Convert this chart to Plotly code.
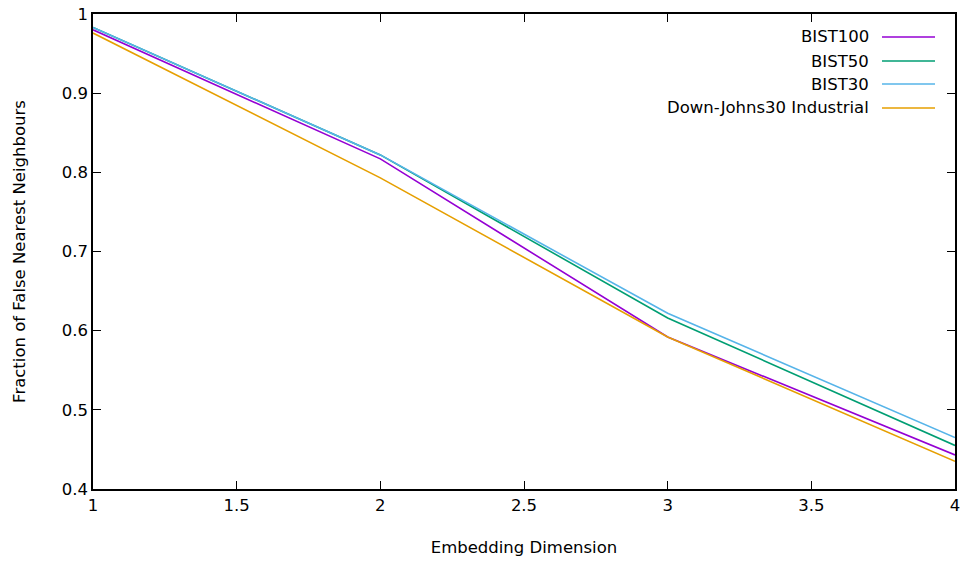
import plotly.graph_objects as go

dims = [1, 2, 3, 4]
bist100 = [0.980, 0.817, 0.592, 0.443]
bist50 = [0.983, 0.822, 0.616, 0.455]
bist30 = [0.983, 0.822, 0.622, 0.465]
dj30 = [0.976, 0.793, 0.592, 0.435]

names = ["BIST100", "BIST50", "BIST30", "Down-Johns30 Industrial"]
series = [bist100, bist50, bist30, dj30]
colors = ["#9400D3", "#009E73", "#56B4E9", "#E69F00"]

FONT = "DejaVu Sans"
FS = 16.5
W, H = 964, 563
PL, PR, PT, PB = 93, 955, 14, 489  # plot area in page pixels


def px_x(p):
    return (p - PL) / (PR - PL)


def px_y(p):
    return (PB - p) / (PB - PT)


fig = go.Figure()
for n, s, c in zip(names, series, colors):
    fig.add_trace(go.Scatter(x=dims, y=s, mode="lines", name=n,
                             line=dict(color=c, width=1.6), showlegend=False))

# Manual gnuplot-style legend (text then sample line on the right)
leg_y = [37, 61, 84, 108]
anns = []
shapes = []
for n, c, yp in zip(names, colors, leg_y):
    yy = px_y(yp)
    anns.append(dict(x=px_x(871), y=yy, xref="paper", yref="paper", text=n,
                     showarrow=False, xanchor="right", yanchor="middle",
                     font=dict(family=FONT, size=FS, color="#000")))
    shapes.append(dict(type="line", xref="paper", yref="paper",
                       x0=px_x(882), x1=px_x(935), y0=yy, y1=yy,
                       line=dict(color=c, width=1.6)))

axis_common = dict(showline=True, linecolor="#000", linewidth=1.5, mirror="allticks",
                   ticks="inside", ticklen=8, tickcolor="#000", tickwidth=1,
                   showgrid=False, zeroline=False, ticklabeloverflow="allow",
                   automargin=False,
                   tickfont=dict(family=FONT, size=FS, color="#000"))

fig.update_layout(
    template="none",
    width=W, height=H,
    margin=dict(l=PL, r=W - PR, t=PT, b=H - PB),
    plot_bgcolor="white", paper_bgcolor="white",
    annotations=anns, shapes=shapes,
    xaxis=dict(range=[1, 4], tickvals=[1, 1.5, 2, 2.5, 3, 3.5, 4],
               ticktext=["1", "1.5", "2", "2.5", "3", "3.5", "4"],
               title=dict(text="Embedding Dimension", standoff=28,
                          font=dict(family=FONT, size=FS, color="#000")),
               **axis_common),
    yaxis=dict(range=[0.4, 1.0], tickvals=[0.4, 0.5, 0.6, 0.7, 0.8, 0.9, 1.0],
               ticktext=["0.4", "0.5", "0.6", "0.7", "0.8", "0.9", "1"],
               title=dict(text="Fraction of False Nearest Neighbours", standoff=32,
                          font=dict(family=FONT, size=FS, color="#000")),
               **axis_common),
)

fig.write_html("out.html", config={"displayModeBar": False},
               post_script="document.body.style.margin='0';document.body.style.overflow='hidden';")
